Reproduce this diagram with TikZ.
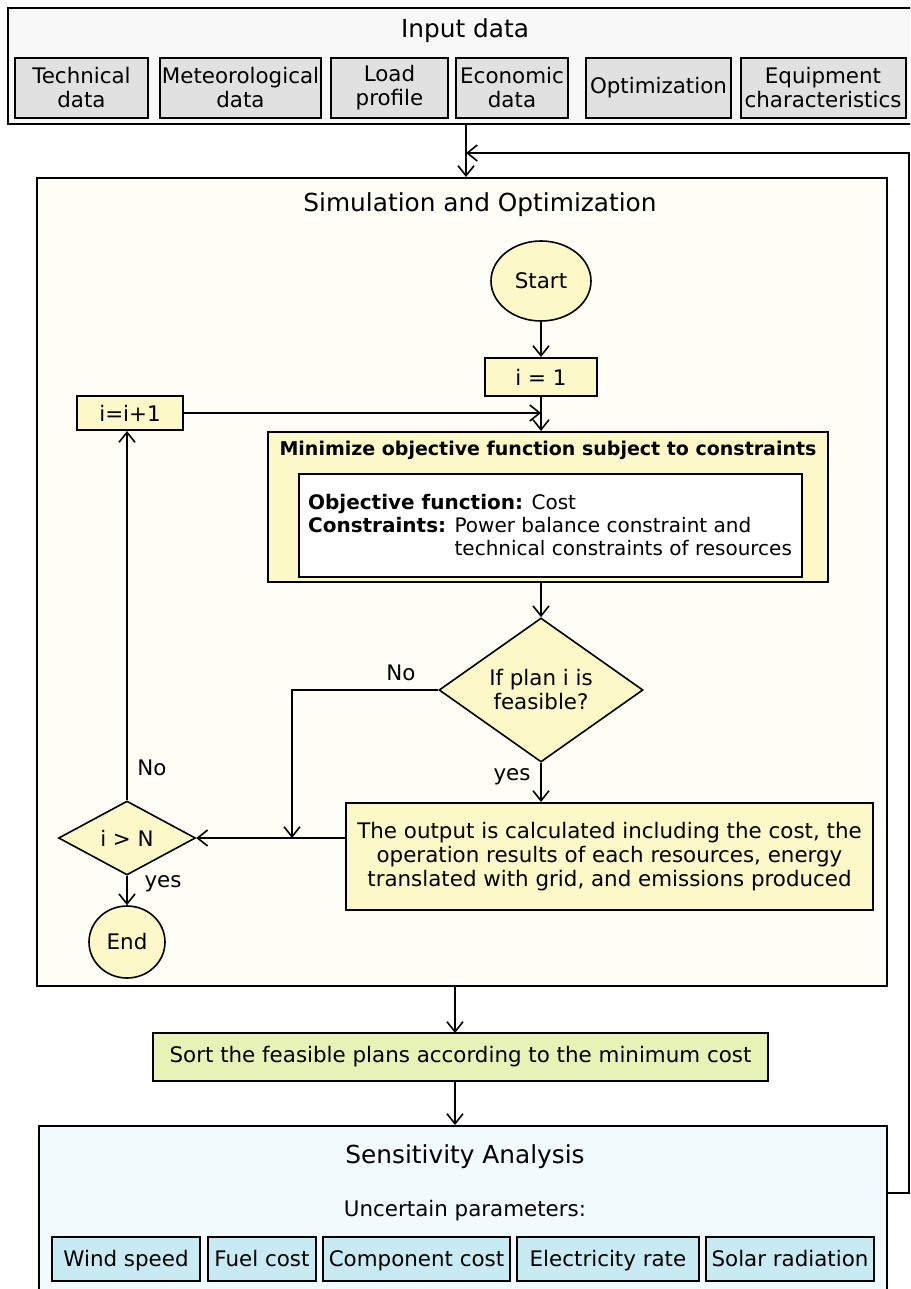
\documentclass[tikz,border=0pt]{standalone}
\usepackage{fontspec}
\setmainfont{DejaVu Sans}
\usetikzlibrary{
    arrows,
    arrows.meta,
    shapes,
    calc,
    positioning
}
\definecolor{inbg}{HTML}{F8F8F8}
\definecolor{ingray}{HTML}{E1E1E1}
\definecolor{simbg}{HTML}{FEFEF6}
\definecolor{pale}{HTML}{FCF8C8}
\definecolor{sortgreen}{HTML}{E7F2B6}
\definecolor{sensbg}{HTML}{F1FAFD}
\definecolor{parblue}{HTML}{C8EAF2}
\tikzset{
    inbox/.style={draw=black, line width=1pt, fill=ingray, align=center, inner sep=0pt, minimum height=30pt},
    ybox/.style={draw=black, line width=1pt, fill=pale, align=center, inner sep=0pt},
    yell/.style={ellipse, draw=black, line width=0.8pt, fill=pale, inner sep=0pt},
    ydiam/.style={diamond, draw=black, line width=0.8pt, fill=pale, align=center, inner sep=0pt},
    parbox/.style={draw=black, line width=1pt, fill=parblue, inner sep=0pt, minimum height=22pt, text height=1.6ex, text depth=0.25ex},
    frame/.style={draw=black, line width=1pt},
    arr/.style={-{Straight Barb[length=5pt, width=8pt]}, line width=0.8pt},
    ttl/.style={font=\fontsize{12.4}{15}\selectfont}
}

\begin{document}
\begin{tikzpicture}[x=0.5pt, y=-0.5pt, every node/.style={font=\fontsize{10.7}{12}\selectfont}]
                                \useasboundingbox (0,0) rectangle (910,1289);
                                \clip (0,0) rectangle (910,1289);
                                % input data
                                \node[frame, fill=inbg, minimum width=461pt, minimum height=58pt] (input) at (469,66) {};
                                \node[ttl] (inputttl) at (465,31) {Input data};
                                \node[inbox, minimum width=66.5pt] (tech) at (81.5,88) {Technical\\data};
                                \node[inbox, minimum width=80.5pt] (meteo) at (240.5,88) {Meteorological\\data};
                                \node[inbox, minimum width=58.5pt] (load) at (389.5,88) {Load\\profile};
                                \node[inbox, minimum width=56pt] (econ) at (512,88) {Economic\\data};
                                \node[inbox, minimum width=72.5pt] (optim) at (658.5,88) {Optimization};
                                \node[inbox, minimum width=82.5pt] (equip) at (823,88) {Equipment\\characteristics};
                                % simulation and optimization
                                \node[frame, fill=simbg, minimum width=425pt, minimum height=404pt] (sim) at (462,582) {};
                                \node[ttl] (simttl) at (480,205) {Simulation and Optimization};
                                \node[yell, minimum width=50pt, minimum height=40pt] (start) at (541,281) {Start};
                                \node[ybox, minimum width=56pt, minimum height=19pt] (ione) at (541,377) {i = 1};
                                \node[ybox, minimum width=53pt, minimum height=17pt] (inc) at (130,413) {i=i+1};
                                \node[ybox, minimum width=280pt, minimum height=75pt] (minim) at (548,507) {};
                                \node[font=\bfseries\fontsize{9.5}{12}\selectfont] (minttl) at (548,450) {Minimize objective function subject to constraints};
                                \node[draw=black, line width=1pt, fill=white, align=left, minimum width=251.5pt, minimum height=51.5pt,
                                      font=\fontsize{10}{11.5}\selectfont] (objbox) at (550,525.5)
                                    {\textbf{Objective function:} Cost\\
                                     \textbf{Constraints:} Power balance constraint and\\
                                     \phantom{\textbf{Constraints:} }technical constraints of resources};
                                \node[ydiam, minimum width=102pt, minimum height=72pt] (feas) at (541,690) {If plan i is\\feasible?};
                                \node[ybox, minimum width=263.5pt, minimum height=53.5pt] (out) at (609.5,856.5)
                                    {The output is calculated including the cost, the\\
                                     operation results of each resources, energy\\
                                     translated with grid, and emissions produced};
                                \node[ydiam, minimum width=68.5pt, minimum height=37pt] (ign) at (127,838) {i > N};
                                \node[yell, minimum width=38pt, minimum height=36pt] (stop) at (127,942) {End};
                                \node (nofeas) at (401,673) {No};
                                \node (yesfeas) at (512,777) {yes};
                                \node (noign) at (152,768) {No};
                                \node (yesign) at (163,884) {yes};
                                \coordinate (nojoin) at (292,838);
                                % sort and sensitivity
                                \node[frame, fill=sortgreen, minimum width=307.5pt, minimum height=24pt] (sort) at (460.5,1057) {Sort the feasible plans according to the minimum cost};
                                \node[frame, fill=sensbg, minimum width=424pt, minimum height=87pt] (sens) at (463,1213) {};
                                \node[ttl] (sensttl) at (465,1157) {Sensitivity Analysis};
                                \node (unc) at (465,1211) {Uncertain parameters:};
                                \node[parbox, minimum width=74pt] (wind) at (126,1259) {Wind speed};
                                \node[parbox, minimum width=54pt] (fuel) at (262,1259) {Fuel cost};
                                \node[parbox, minimum width=93.5pt] (comp) at (416.5,1259) {Component cost};
                                \node[parbox, minimum width=91pt] (elec) at (608,1259) {Electricity rate};
                                \node[parbox, minimum width=84pt] (solar) at (790,1259) {Solar radiation};
                                \coordinate (sensout) at (887,1193);
                                \coordinate (ret) at (909,153);
                                \coordinate (retend) at (466,153);
                                \coordinate (sortin) at (455,1033);
                                % connectors
                                \draw[arr] (retend |- input.south) -- (retend |- sim.north);
                                \draw[arr] (sensout) -| (ret) -- (retend);
                                \draw[arr] (start) -- (ione);
                                \draw[arr] (ione.south) -- (ione.south |- minim.north);
                                \draw[arr] (inc.east) -- (inc.east -| ione.south);
                                \draw[arr] (minim.south -| feas.north) -- (feas.north);
                                \draw[arr] (feas.west) -| (nojoin);
                                \draw[arr] (feas.south) -- (feas.south |- out.north);
                                \draw[arr] (ign.east -| out.west) -- (ign.east);
                                \draw[arr] (ign.north) -- (ign.north |- inc.south);
                                \draw[arr] (ign.south) -- (stop.north);
                                \draw[arr] (sortin |- sim.south) -- (sortin);
                                \draw[arr] (sortin |- sort.south) -- (sortin |- sens.north);
                            \end{tikzpicture}
\end{document}
